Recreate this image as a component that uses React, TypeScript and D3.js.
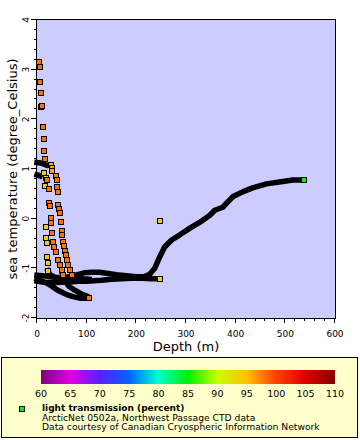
import * as d3 from "d3";
import { useEffect, useRef } from "react";

// axis ticks
const depthTicks = [0, 100, 200, 300, 400, 500, 600];
const tempTicks = [-2, -1, 0, 1, 2, 3, 4];
const transTicks = [60, 65, 70, 75, 80, 85, 90, 95, 100, 105, 110];
const transColors = [
  "#800080", "#e000e0", "#5a20ff", "#0064ff", "#00ffd0", "#00f000",
  "#c8ff00", "#ffc000", "#ff4000", "#e00000", "#800000",
];

// dense stretches of the profiles (markers overlap into a solid band)
const deepD = [0, 10, 20, 35, 50, 65, 80, 95, 110, 125, 140, 160, 180, 200, 215, 227, 237, 247, 257, 271, 287, 308, 328, 348, 358, 374, 394, 414, 434, 462, 488, 515, 537];
const deepT = [-1.14, -1.15, -1.16, -1.18, -1.19, -1.17, -1.13, -1.09, -1.08, -1.08, -1.1, -1.13, -1.15, -1.17, -1.17, -1.12, -1.0, -0.77, -0.57, -0.43, -0.33, -0.19, -0.07, 0.07, 0.17, 0.23, 0.44, 0.54, 0.62, 0.7, 0.74, 0.78, 0.78];
const lowD = [0, 15, 30, 50, 70, 85, 100, 115, 130, 150, 170, 190, 210, 230, 248];
const lowT = [-1.26, -1.28, -1.29, -1.28, -1.27, -1.26, -1.26, -1.25, -1.24, -1.22, -1.21, -1.2, -1.2, -1.21, -1.21];
const shD = [0, 10, 20, 30, 40, 50, 60, 72, 86, 98, 105];
const shT = [-1.22, -1.26, -1.3, -1.36, -1.43, -1.48, -1.53, -1.57, -1.6, -1.6, -1.6];
const caD = [70, 75, 82, 92, 105];
const caT = [-1.13, -1.18, -1.2, -1.21, -1.22];
const cbD = [52, 56, 64, 76, 90, 100];
const cbT = [-1.13, -1.25, -1.36, -1.44, -1.52, -1.56];
const ccD = [22, 26, 34];
const ccT = [-1.05, -1.13, -1.17];
const s1D = [0, 8, 18];
const s1T = [1.13, 1.12, 1.08];
const s2D = [0, 6];
const s2T = [0.88, 0.86];
// light transmission of the last sample of each band (null = hidden)
const bandEnds = [85, 94, 98, null, null, null, null, null];

// sparse samples, visible as single markers
const colAD = [4, 6, 6, 8, 9, 10, 12, 14, 14, 16, 28, 30, 30, 38, 40, 41, 42, 43, 45, 46, 48, 50, 51, 52, 54, 56, 58, 60, 62, 66, 70];
const colAT = [3.16, 3.06, 2.75, 2.53, 2.25, 2.27, 1.85, 1.6, 1.36, 1.2, 1.08, 1.02, 0.96, 0.86, 0.78, 0.64, 0.54, 0.27, 0.19, 0.11, -0.07, -0.25, -0.33, -0.47, -0.55, -0.65, -0.73, -0.83, -0.93, -1.03, -1.13];
const colAL = [98, 98, 98, 98, 98, 98, 98, 98, 98, 98, 96, 96, 96, 98, 98, 98, 98, 98, 98, 98, 98, 98, 98, 98, 98, 98, 98, 98, 98, 98, 98];
const colBD = [20, 24, 24, 26, 28, 28, 30, 32, 34, 38, 42, 46, 50, 52];
const colBT = [0.78, 0.6, 0.31, 0.25, 0.01, -0.09, -0.29, -0.47, -0.57, -0.67, -0.83, -0.93, -1.03, -1.13];
const colBL = [98, 98, 98, 98, 98, 98, 98, 98, 98, 98, 98, 98, 98, 98];
const colCD = [14, 18, 16, 18, 18, 20, 20, 22, 22, 248];
const colCT = [0.92, 0.82, 0.66, -0.17, -0.39, -0.49, -0.77, -0.89, -1.05, -0.04];
const colCL = [94, 94, 94, 94, 94, 94, 94, 94, 94, 94];

const legendLines = [
  "ArcticNet 0502a, Northwest Passage CTD data",
  "Data courtesy of Canadian Cryospheric Information Network",
];

export default function App() {
  const ref = useRef<SVGSVGElement>(null);

  useEffect(() => {
    if (!ref.current) return;
    const svg = d3.select(ref.current);
    svg.selectAll("*").remove();

    const W = 360, H = 440;
    const left = 37, right = 335, top = 20, bottom = 318;
    const font = "DejaVu Sans, sans-serif";

    const x = d3.scaleLinear().domain([0, 600]).range([left, right]);
    const y = d3.scaleLinear().domain([-2, 4]).range([bottom, top]);
    const color = d3.scaleLinear<string>().domain(transTicks).range(transColors).clamp(true);

    svg.attr("width", W).attr("height", H);
    svg.append("rect").attr("width", W).attr("height", H).attr("fill", "#fff");

    svg.append("rect")
      .attr("x", left).attr("y", top)
      .attr("width", right - left).attr("height", bottom - top)
      .attr("fill", "#ccccff");

    const plot = svg.append("g");
    const line = d3.line<[number, number]>().x(p => x(p[0])).y(p => y(p[1]));

    const bands = [
      [deepD, deepT], [lowD, lowT], [shD, shT], [caD, caT],
      [cbD, cbT], [ccD, ccT], [s1D, s1T], [s2D, s2T],
    ];

    bands.forEach(([ds, ts]) => {
      plot.append("path")
        .attr("d", line(d3.zip(ds, ts) as [number, number][]))
        .attr("fill", "none")
        .attr("stroke", "#000")
        .attr("stroke-width", 5.5)
        .attr("stroke-linejoin", "round")
        .attr("stroke-linecap", "square");
    });

    const marker = (d: number, t: number, l: number) => {
      plot.append("rect")
        .attr("x", Math.round(x(d)) - 2.5)
        .attr("y", Math.round(y(t)) - 2.5)
        .attr("width", 5).attr("height", 5)
        .attr("fill", color(l))
        .attr("stroke", "#000")
        .attr("stroke-width", 1)
        .attr("shape-rendering", "crispEdges");
    };

    [[colCD, colCT, colCL], [colBD, colBT, colBL], [colAD, colAT, colAL]].forEach(([ds, ts, ls]) => {
      ds.forEach((d, i) => marker(d, ts[i], ls[i]));
    });

    bands.forEach(([ds, ts], i) => {
      const l = bandEnds[i];
      if (l == null) return;
      marker(ds[ds.length - 1], ts[ts.length - 1], l);
    });

    // frame
    svg.append("rect")
      .attr("x", left - 0.5).attr("y", top - 0.5)
      .attr("width", right - left + 1).attr("height", bottom - top + 1)
      .attr("fill", "none").attr("stroke", "#000");

    const axes = svg.append("g").attr("stroke", "#000").attr("shape-rendering", "crispEdges");

    // x axis
    d3.range(0, 601, 20).forEach(v => {
      const major = depthTicks.includes(v);
      const px = Math.round(x(v)) - 0.5;
      axes.append("line")
        .attr("x1", px).attr("x2", px)
        .attr("y1", bottom).attr("y2", bottom + (major ? 5 : 3));
    });
    depthTicks.forEach(v => {
      svg.append("text")
        .attr("x", x(v)).attr("y", 337)
        .attr("text-anchor", "middle")
        .attr("font-family", font).attr("font-size", 9)
        .text(v);
    });

    // y axis
    d3.range(-2, 4.001, 0.2).forEach(v => {
      const major = tempTicks.some(t => Math.abs(t - v) < 1e-6);
      const py = Math.round(y(v)) - 0.5;
      axes.append("line")
        .attr("x1", left - (major ? 6 : 3)).attr("x2", left)
        .attr("y1", py).attr("y2", py);
    });
    tempTicks.forEach(v => {
      svg.append("text")
        .attr("transform", `translate(29,${y(v)}) rotate(-90)`)
        .attr("text-anchor", "middle")
        .attr("font-family", font).attr("font-size", 9)
        .text(v);
    });

    svg.append("text")
      .attr("x", (left + right) / 2).attr("y", 351)
      .attr("text-anchor", "middle")
      .attr("font-family", font).attr("font-size", 13)
      .text("Depth (m)");

    svg.append("text")
      .attr("transform", `translate(17,${(top + bottom) / 2}) rotate(-90)`)
      .attr("text-anchor", "middle")
      .attr("font-family", font).attr("font-size", 13)
      .text("sea temperature (degree_Celsius)");

    // legend
    svg.append("rect")
      .attr("x", 1.5).attr("y", 357.5)
      .attr("width", 356).attr("height", 80)
      .attr("fill", "#ffffcc").attr("stroke", "#000");

    const cx = d3.scaleLinear().domain([60, 110]).range([41, 335]);
    const grad = svg.append("defs").append("linearGradient").attr("id", "ramp");
    transTicks.forEach((v, i) => {
      grad.append("stop")
        .attr("offset", `${((v - 60) / 50) * 100}%`)
        .attr("stop-color", transColors[i]);
    });
    svg.append("rect")
      .attr("x", 41).attr("y", 370)
      .attr("width", 294).attr("height", 14)
      .attr("fill", "url(#ramp)");

    transTicks.forEach(v => {
      const px = Math.round(cx(v)) - 0.5;
      axes.append("line").attr("x1", px).attr("x2", px).attr("y1", 384).attr("y2", 389);
      svg.append("text")
        .attr("x", cx(v)).attr("y", 397)
        .attr("text-anchor", "middle")
        .attr("font-family", font).attr("font-size", 9.5)
        .text(v);
    });

    svg.append("rect")
      .attr("x", 19.5).attr("y", 406.5)
      .attr("width", 5).attr("height", 5)
      .attr("fill", color(85)).attr("stroke", "#000")
      .attr("shape-rendering", "crispEdges");

    svg.append("text")
      .attr("x", 42).attr("y", 411)
      .attr("font-family", font).attr("font-size", 9).attr("font-weight", "bold")
      .text("light transmission (percent)");

    legendLines.forEach((s, i) => {
      svg.append("text")
        .attr("x", 42).attr("y", 420.5 + i * 9.5)
        .attr("font-family", font).attr("font-size", 9.2)
        .text(s);
    });
  }, []);

  return <svg ref={ref} style={{ position: "absolute", left: 0, top: 0 }} />;
}
